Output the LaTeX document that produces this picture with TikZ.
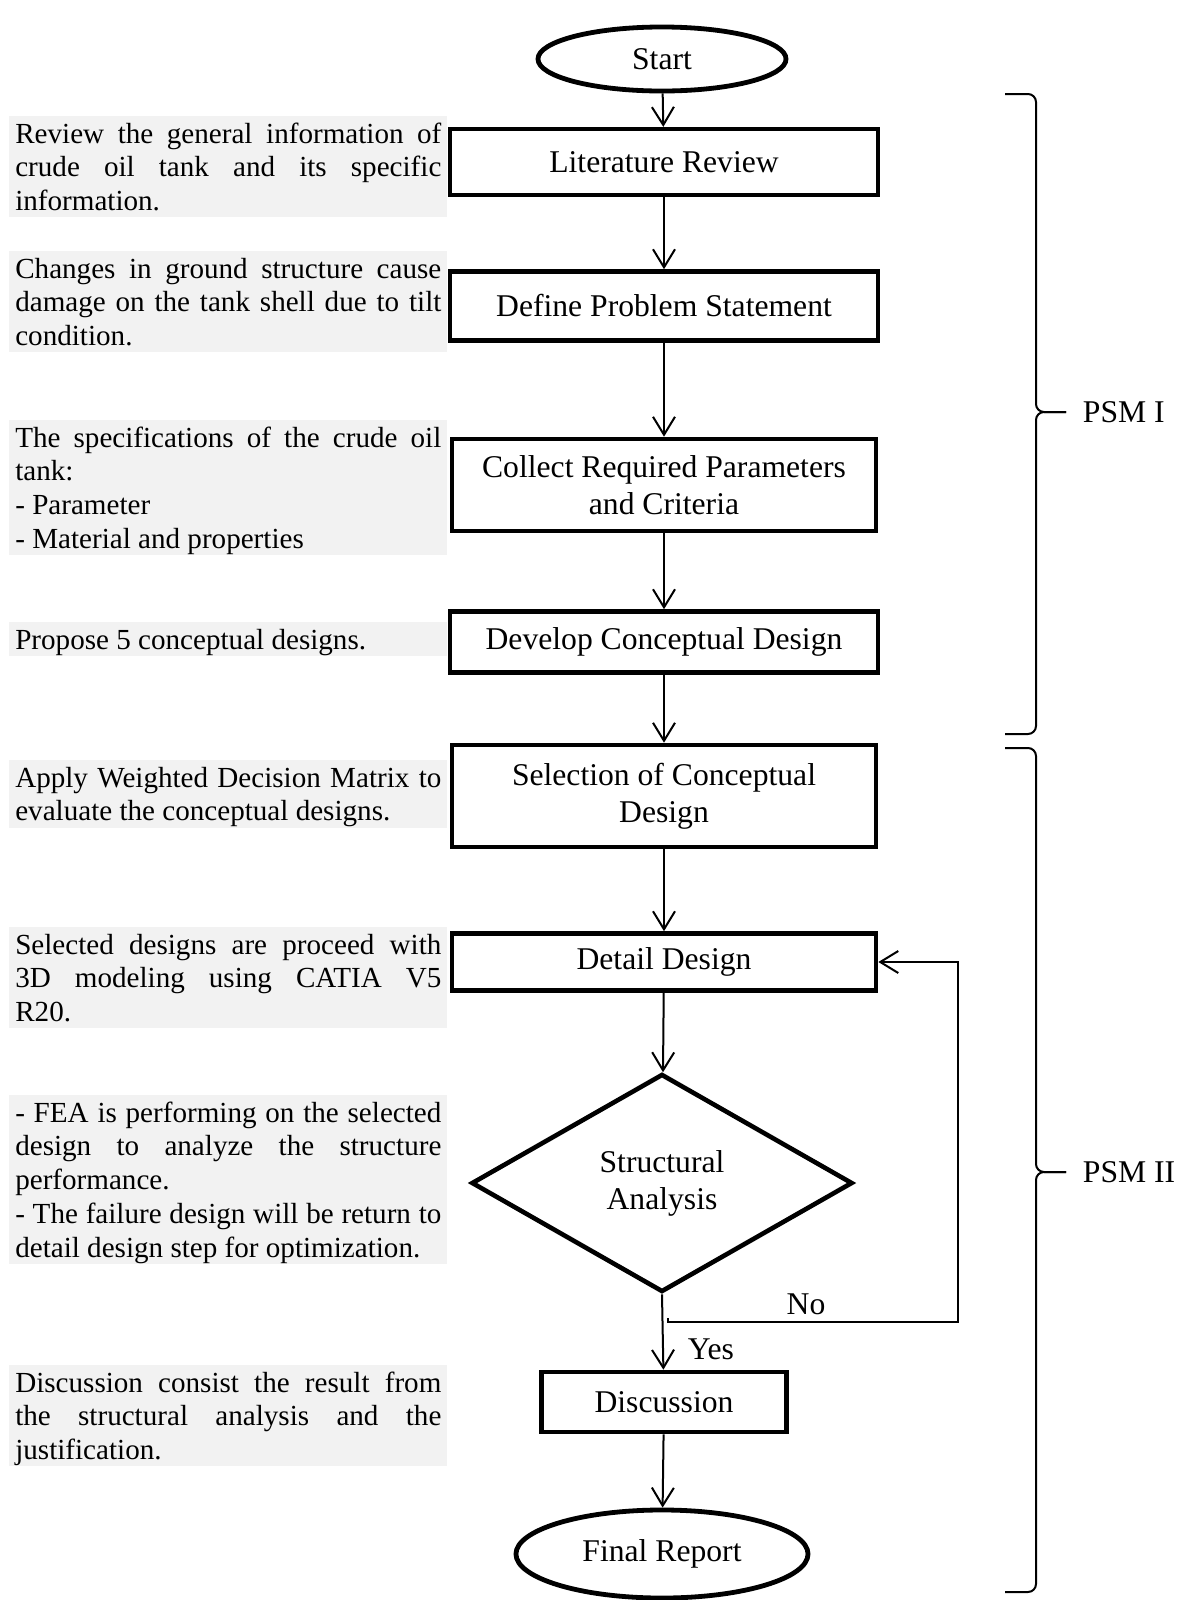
\documentclass[tikz,border=0pt]{standalone}
\usepackage{fontspec}
\setmainfont{Liberation Serif}
\usetikzlibrary{shapes.geometric,arrows.meta}
\definecolor{notegray}{HTML}{F2F2F2}
\newcommand{\boxfont}{\fontsize{22.5}{26.2}\selectfont}
\newcommand{\notefont}{\fontsize{20.7}{23.96}\selectfont}
\tikzset{
  procbox/.style={draw,line width=0.115cm,minimum width=10.7cm,align=center,font=\boxfont},
  termnode/.style={draw,ellipse,line width=0.12cm,font=\boxfont},
  decnode/.style={draw,diamond,line width=0.115cm,align=center,font=\boxfont},
  note/.style={fill=notegray,anchor=north west,text width=10.65cm,inner xsep=0.15cm,inner ysep=0pt,
    align=justify,font=\notefont,
    execute at begin node={\parindent0pt\hyphenpenalty10000\tolerance10000\rule{0pt}{0.8\baselineskip}},
    execute at end node={\rule[-0.2\baselineskip]{0pt}{0pt}}},
  arr/.style={line width=0.05cm,-{Straight Barb[length=0.45cm,width=0.55cm]}},
  psmline/.style={line width=0.05cm,rounded corners=0.2cm},
}
\begin{document}
\begin{tikzpicture}[x=0.025cm,y=-0.025cm]
  \useasboundingbox (0,0) rectangle (1183,1600);
  % flow chart
  \node[termnode,minimum width=6.2cm,minimum height=1.6cm] (start) at (662,59) {Start};
  \node[procbox,minimum height=1.64cm] (lit) at (664,162) {Literature Review};
  \node[procbox,minimum height=1.725cm] (dps) at (664,306) {Define Problem Statement};
  \node[procbox,minimum width=10.6cm,minimum height=2.3cm] (col) at (664,485) {Collect Required Parameters\\and Criteria};
  \node[procbox,minimum height=1.525cm] (dev) at (664,642) {Develop Conceptual Design};
  \node[procbox,minimum width=10.6cm,minimum height=2.55cm] (sel) at (664,796) {Selection of Conceptual\\Design};
  \node[procbox,minimum width=10.6cm,minimum height=1.425cm] (det) at (664,962) {Detail Design};
  \node[decnode,minimum width=9.525cm,minimum height=5.45cm] (sa) at (662,1183) {Structural\\Analysis};
  \node[procbox,minimum width=6.125cm,minimum height=1.5cm] (disc) at (664,1402) {Discussion};
  \node[termnode,minimum width=7.3cm,minimum height=2.2cm] (fin) at (662,1554) {Final Report};

  \draw[arr] (start) -- (lit);
  \draw[arr] (lit) -- (dps);
  \draw[arr] (dps) -- (col);
  \draw[arr] (col) -- (dev);
  \draw[arr] (dev) -- (sel);
  \draw[arr] (sel) -- (det);
  \draw[arr] (det) -- (sa);
  \draw[arr] (sa.south) -- (disc);
  \draw[arr] (disc) -- (fin);

  % loop back when the analysis fails
  \coordinate (nostart) at (668,1318);
  \coordinate (noturn) at (958,1322);
  \draw[arr] (nostart) |- (noturn) |- (det.east);
  \node[font=\boxfont] (nolbl) at (806,1304) {No};
  \node[font=\boxfont] (yeslbl) at (711,1349) {Yes};

  % notes on the left
  \node[note] (n1) at (9,116) {Review the general information of\linebreak crude oil tank and its specific\linebreak information.};
  \node[note] (n2) at (9,251) {Changes in ground structure cause\linebreak damage on the tank shell due to tilt\linebreak condition.};
  \node[note] (n3) at (9,420) {The specifications of the crude oil\linebreak tank:\\- Parameter\\- Material and properties};
  \node[note] (n4) at (9,622) {Propose 5 conceptual designs.};
  \node[note] (n5) at (9,760) {Apply Weighted Decision Matrix to\linebreak evaluate the conceptual designs.};
  \node[note] (n6) at (9,927) {Selected designs are proceed with\linebreak 3D modeling using CATIA V5\linebreak R20.};
  \node[note] (n7) at (9,1095) {- FEA is performing on the selected\linebreak design to analyze the structure\linebreak performance.\\- The failure design will be return to\linebreak detail design step for optimization.};
  \node[note] (n8) at (9,1365) {Discussion consist the result from\linebreak the structural analysis and the\linebreak justification.};

  % braces
  \draw[psmline] (1005,94) -- (1036,94) -- (1036,412) -- (1066,412);
  \draw[psmline] (1005,734) -- (1036,734) -- (1036,412) -- (1066,412);
  \node[font=\boxfont,anchor=west] (psma) at (1078,412) {PSM I};
  \draw[psmline] (1005,748) -- (1036,748) -- (1036,1172) -- (1066,1172);
  \draw[psmline] (1005,1592) -- (1036,1592) -- (1036,1172) -- (1066,1172);
  \node[font=\boxfont,anchor=west] (psmb) at (1078,1172) {PSM II};
\end{tikzpicture}
\end{document}
